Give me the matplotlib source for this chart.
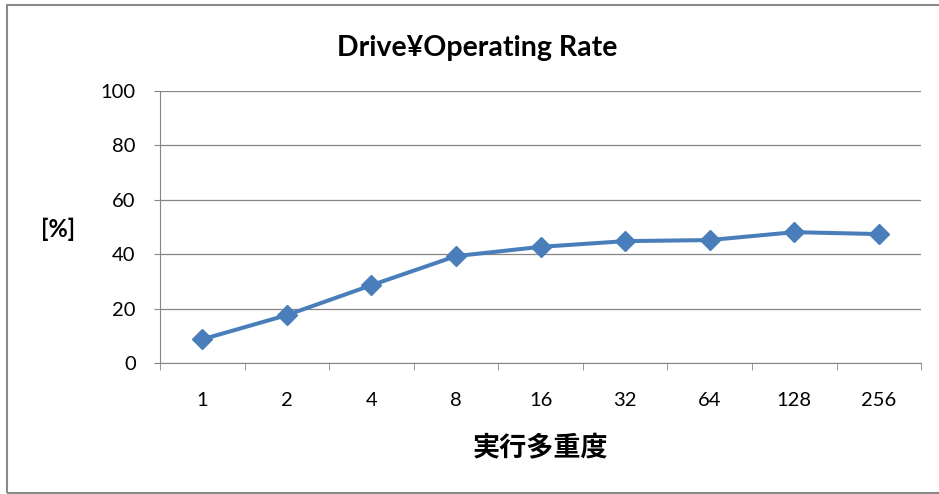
import numpy as np
import matplotlib
matplotlib.use("Agg")
import matplotlib.pyplot as plt
from matplotlib.patches import Rectangle

# values
multiplicity = ["1", "2", "4", "8", "16", "32", "64", "128", "256"]
rate = [8.7, 17.6, 28.6, 39.3, 42.7, 44.8, 45.2, 48.1, 47.4]
yticks = [0, 20, 40, 60, 80, 100]

plt.rcParams["font.family"] = ["Lato", "Noto Sans CJK JP", "DejaVu Sans"]

fig = plt.figure(figsize=(9.39, 4.94), dpi=100)
ax = fig.add_axes([0.1704, 0.2652, 0.8106, 0.5506])

x = np.arange(len(multiplicity))
ax.plot(x, rate, "-D", color="#4A7EBB", lw=2.9, ms=10, mec="#4A7EBB")

ax.set_xlim(-0.5, len(multiplicity) - 0.5)
ax.set_ylim(0, 100)
ax.set_yticks(yticks)
ax.set_xticks(x)
ax.set_xticklabels(multiplicity)
ax.set_xticks(np.arange(len(multiplicity) + 1) - 0.5, minor=True)
ax.tick_params(axis="x", which="major", length=0, pad=21, labelsize=14.5, colors="#000000")
ax.tick_params(axis="x", which="minor", length=5, color="#868686")
ax.tick_params(axis="y", length=4.5, color="#868686", labelsize=14.5, pad=13)
ax.yaxis.grid(True, color="#868686", lw=0.9)
ax.set_axisbelow(True)
for side in ["top", "right"]:
    ax.spines[side].set_visible(False)
for side in ["left", "bottom"]:
    ax.spines[side].set_color("#868686")

ax.set_xlabel("実行多重度", family=["Noto Sans CJK JP", "DejaVu Sans"],
              fontsize=19.5, fontweight="bold", labelpad=18)
fig.text(58.5 / 939, 1 - 229 / 494, "[%]", fontsize=17, fontweight="bold",
         ha="center", va="center")
fig.text(477 / 939, 1 - 48 / 494, "Drive¥Operating Rate", fontsize=20.5,
         fontweight="bold", ha="center", va="center")

fig.patches.append(Rectangle((7 / 939, 1.5 / 494), 950 / 939, 487.5 / 494,
                             transform=fig.transFigure, fill=False,
                             edgecolor="#8a8a8a", lw=1.5))

fig.savefig("out.png", dpi=100)
